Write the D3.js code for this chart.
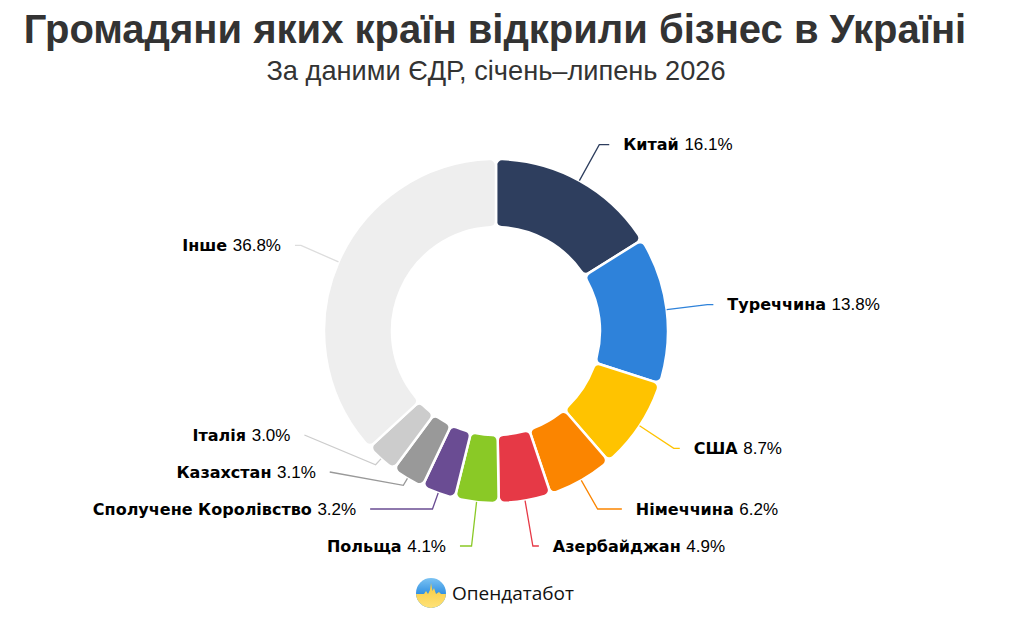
<!DOCTYPE html>
<html>
<head>
<meta charset="utf-8">
<script src="https://cdn.jsdelivr.net/npm/d3@7"></script>
<style>
	body { margin: 0; background: #fff; }
	svg { display: block; font-family: "Liberation Sans", Arial, sans-serif; }
</style>
</head>
<body>
<svg id="chart"></svg>
<script>
// countries and their share of new businesses, %
var countries = ["Китай", "Туреччина", "США", "Німеччина", "Азербайджан", "Польща",
	"Сполучене Королівство", "Казахстан", "Італія", "Інше"];
var shares = [16.1, 13.8, 8.7, 6.2, 4.9, 4.1, 3.2, 3.1, 3.0, 36.8];
var sliceColors = ["#2e3e5e", "#2e82da", "#ffc300", "#fb8500", "#e63946", "#8ac926",
	"#6a4c93", "#999999", "#cccccc", "#eeeeee"];
var lineColors = ["#2e3e5e", "#2e82da", "#ffc300", "#fb8500", "#e63946", "#8ac926",
	"#6a4c93", "#999999", "#cccccc", "#dddddd"];

var titleText = "Громадяни яких країн відкрили бізнес в Україні";
var subtitleText = "За даними ЄДР, січень–липень 2026";
var brandText = "Опендатабот";

window.onload = function() {

	var svgDims = {width: 1026, height: 627};
	var center = {x: 496, y: 331};
	var radii = {inner: 104, outer: 172, labelY: 213, labelX: 218, minElbow: 180};
	var labelSpacing = 37, labelBottom = 546, textGap = 14;

	var svg = d3.select("#chart")
		.attr("width", svgDims.width)
		.attr("height", svgDims.height);

	// title + subtitle
	svg.append("text")
		.attr("x", 495).attr("y", 43)
		.attr("text-anchor", "middle")
		.attr("font-size", 40).attr("font-weight", "bold")
		.attr("fill", "#333")
		.text(titleText);

	svg.append("text")
		.attr("x", 496).attr("y", 80)
		.attr("text-anchor", "middle")
		.attr("font-size", 27.2)
		.attr("fill", "#333")
		.text(subtitleText);

	var data = countries.map(function(c, i) {
		return {name: c, value: shares[i], color: sliceColors[i], line: lineColors[i]};
	});

	var pie = d3.pie().sort(null).value(function(d) { return d.value; });
	var arcs = pie(data);

	var arc = d3.arc()
		.innerRadius(radii.inner)
		.outerRadius(radii.outer)
		.cornerRadius(6);

	var g = svg.append("g")
		.attr("transform", "translate(" + center.x + "," + center.y + ")");

	g.selectAll(".slice")
		.data(arcs)
		.enter().append("path")
			.attr("class", "slice")
			.attr("d", arc)
			.attr("fill", function(d) { return d.data.color; })
			.attr("stroke", "#fff")
			.attr("stroke-width", 2.5);

	// label layout: natural position on the label ring, then push apart per side
	arcs.forEach(function(d) {
		d.mid = (d.startAngle + d.endAngle) / 2;
		d.dir = Math.sin(d.mid) >= 0 ? 1 : -1;
		d.ly = -radii.labelY * Math.cos(d.mid);
	});

	[1, -1].forEach(function(dir) {
		var side = arcs.filter(function(d) { return d.dir === dir; })
			.sort(function(a, b) { return a.ly - b.ly; });
		for (var i = 1; i < side.length; i++) {
			side[i].ly = Math.max(side[i].ly, side[i - 1].ly + labelSpacing);
		}
		var bottom = labelBottom - center.y;
		if (side.length && side[side.length - 1].ly > bottom) side[side.length - 1].ly = bottom;
		for (var j = side.length - 2; j >= 0; j--) {
			side[j].ly = Math.min(side[j].ly, side[j + 1].ly - labelSpacing);
		}
	});

	arcs.forEach(function(d) {
		var s = Math.sin(d.mid), c = -Math.cos(d.mid);
		var p0 = [radii.outer * s, radii.outer * c];
		// elbow where the ray meets the label row, but not too close to the ring
		var t = d.ly / c;
		if (!isFinite(t) || t < radii.minElbow) t = radii.minElbow;
		var p1 = [t * s, t * c];
		var ex;
		if (Math.abs(d.ly) < radii.labelX) ex = d.dir * Math.sqrt(radii.labelX * radii.labelX - d.ly * d.ly);
		else ex = p1[0];
		if (d.dir > 0) ex = Math.max(ex, p1[0] + 6);
		else ex = Math.min(ex, p1[0] - 6);
		d.points = [p0, p1, [ex, d.ly]];
		d.tx = ex + d.dir * textGap;
	});

	g.selectAll(".leader")
		.data(arcs)
		.enter().append("polyline")
			.attr("class", "leader")
			.attr("points", function(d) { return d.points.map(function(p) { return p.join(","); }).join(" "); })
			.attr("fill", "none")
			.attr("stroke", function(d) { return d.data.line; })
			.attr("stroke-width", 1.3);

	var labels = g.selectAll(".label")
		.data(arcs)
		.enter().append("text")
			.attr("class", "label")
			.attr("x", function(d) { return d.tx; })
			.attr("y", function(d) { return d.ly; })
			.attr("dy", "0.36em")
			.attr("text-anchor", function(d) { return d.dir > 0 ? "start" : "end"; })
			.attr("font-size", 16)
			.attr("fill", "#000");

	labels.append("tspan")
		.attr("font-family", "'DejaVu Sans', sans-serif")
		.attr("font-weight", "bold")
		.text(function(d) { return d.data.name + " "; });
	labels.append("tspan")
		.attr("font-size", 17)
		.text(function(d) { return d3.format(".1f")(d.data.value) + "%"; });

	// brand logo at the bottom
	var defs = svg.append("defs");
	var grad = defs.append("linearGradient").attr("id", "logoSky")
		.attr("x1", 0).attr("y1", 0).attr("x2", 0).attr("y2", 1);
	grad.append("stop").attr("offset", "0%").attr("stop-color", "#7cc3f2");
	grad.append("stop").attr("offset", "55%").attr("stop-color", "#2f8fe2");
	var grad2 = defs.append("linearGradient").attr("id", "logoSun")
		.attr("x1", 0).attr("y1", 0).attr("x2", 0).attr("y2", 1);
	grad2.append("stop").attr("offset", "0%").attr("stop-color", "#f7c93c");
	grad2.append("stop").attr("offset", "100%").attr("stop-color", "#ffe37a");
	defs.append("clipPath").attr("id", "logoClip")
		.append("circle").attr("cx", 0).attr("cy", 0).attr("r", 15);

	var logo = svg.append("g").attr("transform", "translate(431,593)");
	var lg = logo.append("g").attr("clip-path", "url(#logoClip)");
	lg.append("rect").attr("x", -15).attr("y", -15).attr("width", 30).attr("height", 30)
		.attr("fill", "url(#logoSky)");
	lg.append("path")
		.attr("d", "M-16,1 L-7,1 L-5,-2 L-3,1 L-1,-3 L0,-10 L1.5,-2 L3,-5 L5,1 L8,-1 L10,1 L16,1 L16,16 L-16,16 Z")
		.attr("fill", "url(#logoSun)");

	svg.append("text")
		.attr("x", 452).attr("y", 600)
		.attr("font-family", "'Open Sans', 'Noto Sans', sans-serif")
		.attr("font-size", 19)
		.attr("fill", "#111")
		.text(brandText);
};
</script>
</body>
</html>
